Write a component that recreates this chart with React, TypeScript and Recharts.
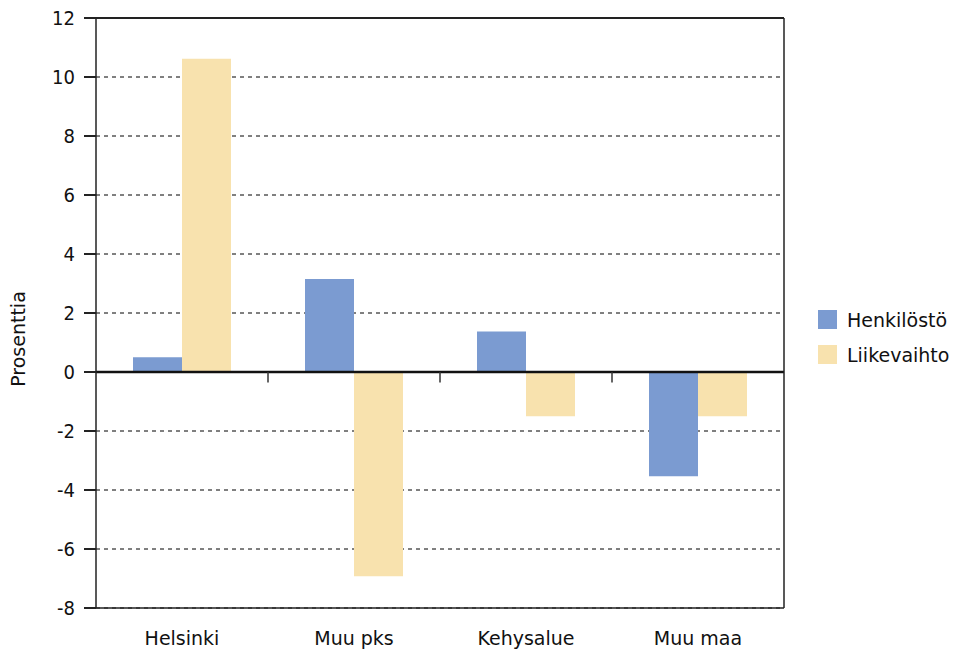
import React from "react";
import {
  BarChart, Bar, XAxis, YAxis, CartesianGrid, ReferenceLine, Label,
} from "recharts";

const categories = ["Helsinki", "Muu pks", "Kehysalue", "Muu maa"];
const henkilosto = [0.5, 3.15, 1.37, -3.53];
const liikevaihto = [10.62, -6.92, -1.5, -1.5];
const yTicks = [-8, -6, -4, -2, 0, 2, 4, 6, 8, 10, 12];
const categoryBounds = [1, 2, 3];

const BLUE = "#7b9bd1";
const YELLOW = "#f8e2ae";
const FONT = "'DejaVu Sans', sans-serif";

const data = categories.map((name, i) => ({
  name,
  idx: i + 0.5,
  henkilosto: henkilosto[i],
  liikevaihto: liikevaihto[i],
}));

const legendItems = [
  { label: "Henkilöstö", color: BLUE },
  { label: "Liikevaihto", color: YELLOW },
];

export default function App() {
  return (
    <div style={{ position: "absolute", left: 0, top: 0, width: 954, height: 651, background: "#fff" }}>
      <BarChart
        width={954}
        height={651}
        data={data}
        margin={{ top: 18, right: 170, bottom: 0, left: 36 }}
        barSize={49}
        barGap={0}
      >
        <CartesianGrid yAxisId="left" vertical={false} stroke="#000" strokeDasharray="4 4" />
        <XAxis
          dataKey="name"
          height={43}
          tickLine={false}
          tickSize={0}
          tickMargin={24}
          axisLine={{ stroke: "#222", strokeWidth: 1.5 }}
          tick={{ fontSize: 19, fill: "#111", fontFamily: FONT }}
        />
        <XAxis
          xAxisId="num"
          dataKey="idx"
          type="number"
          domain={[0, 4]}
          allowDataOverflow
          hide
        />
        <YAxis
          yAxisId="left"
          domain={[-8, 12]}
          ticks={yTicks}
          width={60}
          tickSize={12}
          tickMargin={9}
          axisLine={{ stroke: "#222", strokeWidth: 1.5 }}
          tickLine={{ stroke: "#222", strokeWidth: 2 }}
          tick={{ fontSize: 20, fill: "#111", fontFamily: "'DejaVu Sans Condensed', 'DejaVu Sans', sans-serif" }}
        >
          <Label
            value="Prosenttia"
            angle={-90}
            position="insideLeft"
            offset={-18}
            dy={26}
            style={{ fontSize: 19, fill: "#111", fontFamily: FONT, textAnchor: "middle" }}
          />
        </YAxis>
        <YAxis
          yAxisId="right"
          orientation="right"
          domain={[-8, 12]}
          ticks={yTicks}
          width={1}
          mirror
          tickSize={4}
          tickFormatter={() => ""}
          axisLine={{ stroke: "#222", strokeWidth: 1.5 }}
          tickLine={{ stroke: "#222" }}
        />
        <ReferenceLine yAxisId="left" y={12} stroke="#222" strokeWidth={2} />
        <Bar yAxisId="left" dataKey="henkilosto" name="Henkilöstö" fill={BLUE} isAnimationActive={false} />
        <Bar yAxisId="left" dataKey="liikevaihto" name="Liikevaihto" fill={YELLOW} isAnimationActive={false} />
        <ReferenceLine yAxisId="left" y={0} stroke="#111" strokeWidth={2.5} />
        {categoryBounds.map((b) => (
          <ReferenceLine
            key={b}
            yAxisId="left"
            xAxisId="num"
            segment={[{ x: b, y: 0 }, { x: b, y: -0.36 }]}
            stroke="#333"
            strokeWidth={1.5}
          />
        ))}
      </BarChart>
      <div style={{ position: "absolute", left: 818, top: 302, fontFamily: FONT, fontSize: 19, color: "#111" }}>
        {legendItems.map((item) => (
          <div key={item.label} style={{ display: "flex", alignItems: "center", height: 35 }}>
            <div style={{ width: 19, height: 19, background: item.color, marginRight: 10 }} />
            <span>{item.label}</span>
          </div>
        ))}
      </div>
    </div>
  );
}
